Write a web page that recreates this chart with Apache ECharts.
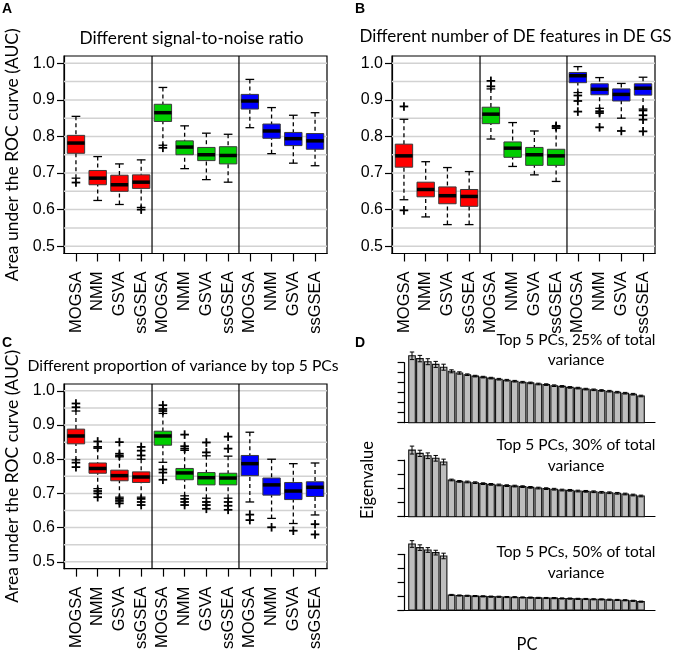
<!DOCTYPE html>
<html><head><meta charset="utf-8">
<script src="https://cdn.jsdelivr.net/npm/echarts@6/dist/echarts.min.js"></script>
<style>html,body{margin:0;padding:0;background:#fff}#c{width:675px;height:652px}</style>
</head><body><div id="c"></div>
<script>
// ---------- DATA ----------
const methods = ['MOGSA','NMM','GSVA','ssGSEA','MOGSA','NMM','GSVA','ssGSEA','MOGSA','NMM','GSVA','ssGSEA'];
const groupColors = ['#ff0000', '#00cd00', '#0000ff'];
const yTickValues = [0.5, 0.6, 0.7, 0.8, 0.9, 1.0];
const gridValues = [0.5, 0.55, 0.6, 0.65, 0.7, 0.75, 0.8, 0.85, 0.9, 0.95, 1.0];
const separators = [4.5, 8.5];
const catIndex = [1,2,3,4,5,6,7,8,9,10,11,12];

// five-number rows: [low whisker, Q1, median, Q3, high whisker]
const statsA = [
  [0.686, 0.754, 0.782, 0.803, 0.855],
  [0.625, 0.668, 0.686, 0.707, 0.745],
  [0.614, 0.650, 0.668, 0.694, 0.725],
  [0.606, 0.658, 0.675, 0.695, 0.736],
  [0.776, 0.841, 0.865, 0.888, 0.934],
  [0.712, 0.750, 0.771, 0.788, 0.829],
  [0.682, 0.734, 0.750, 0.770, 0.809],
  [0.675, 0.725, 0.748, 0.772, 0.806],
  [0.824, 0.875, 0.897, 0.915, 0.956],
  [0.753, 0.795, 0.815, 0.834, 0.879],
  [0.727, 0.775, 0.794, 0.811, 0.858],
  [0.720, 0.765, 0.788, 0.808, 0.865]
];
const outliersA = [[1, 0.674], [4, 0.600], [5, 0.769]];

const statsB = [
  [0.627, 0.716, 0.747, 0.779, 0.847],
  [0.580, 0.635, 0.655, 0.675, 0.731],
  [0.559, 0.616, 0.638, 0.662, 0.715],
  [0.559, 0.609, 0.636, 0.655, 0.704],
  [0.793, 0.835, 0.861, 0.880, 0.930],
  [0.718, 0.743, 0.768, 0.785, 0.838],
  [0.695, 0.721, 0.750, 0.770, 0.815],
  [0.677, 0.721, 0.747, 0.765, 0.822],
  [0.920, 0.947, 0.966, 0.975, 0.991],
  [0.877, 0.914, 0.929, 0.944, 0.961],
  [0.850, 0.897, 0.915, 0.930, 0.945],
  [0.875, 0.913, 0.932, 0.944, 0.962]
];
const outliersB = [[1, 0.882], [1, 0.598], [5, 0.952], [5, 0.937], [8, 0.829], [8, 0.826],
  [9, 0.912], [9, 0.897], [9, 0.868], [10, 0.869], [10, 0.864], [10, 0.825], [11, 0.815],
  [12, 0.871], [12, 0.858], [12, 0.846], [12, 0.814]];

const statsC = [
  [0.798, 0.845, 0.868, 0.888, 0.941],
  [0.714, 0.759, 0.773, 0.789, 0.832],
  [0.689, 0.737, 0.752, 0.768, 0.807],
  [0.689, 0.732, 0.748, 0.763, 0.800],
  [0.791, 0.841, 0.868, 0.882, 0.934],
  [0.693, 0.740, 0.760, 0.773, 0.826],
  [0.686, 0.725, 0.746, 0.761, 0.810],
  [0.686, 0.725, 0.745, 0.759, 0.809],
  [0.675, 0.752, 0.787, 0.811, 0.879],
  [0.627, 0.695, 0.725, 0.745, 0.800],
  [0.612, 0.682, 0.707, 0.732, 0.787],
  [0.637, 0.691, 0.718, 0.734, 0.789]
];
const outliersC = [[1, 0.963], [1, 0.952], [1, 0.790], [1, 0.777],
  [2, 0.852], [2, 0.836], [2, 0.707], [2, 0.700], [2, 0.689],
  [3, 0.850], [3, 0.816], [3, 0.810], [3, 0.684], [3, 0.678], [3, 0.671],
  [4, 0.836], [4, 0.825], [4, 0.811], [4, 0.684], [4, 0.675], [4, 0.666],
  [5, 0.958], [5, 0.947], [5, 0.941], [5, 0.770], [5, 0.761], [5, 0.740],
  [6, 0.872], [6, 0.838], [6, 0.831], [6, 0.684], [6, 0.675], [6, 0.666],
  [7, 0.849], [7, 0.820], [7, 0.675], [7, 0.666], [7, 0.655],
  [8, 0.866], [8, 0.831], [8, 0.675], [8, 0.664], [8, 0.652],
  [9, 0.638], [9, 0.622], [10, 0.601], [11, 0.591], [12, 0.610], [12, 0.580]];

// Panel D: eigenvalues (arbitrary units, 1 unit = 1 axis tick) and error half-widths
const eig25 = [6.69, 6.41, 6.10, 5.83, 5.55, 5.14, 4.97, 4.80, 4.66, 4.56, 4.46, 4.35, 4.25, 4.15, 4.05,
  3.98, 3.87, 3.81, 3.70, 3.63, 3.53, 3.46, 3.36, 3.29, 3.22, 3.15, 3.05, 2.95, 2.85, 2.67];
const err25 = [0.38, 0.32, 0.30, 0.30, 0.30, 0.15, 0.12, 0.08, 0.08, 0.08, 0.08, 0.08, 0.08, 0.08, 0.08,
  0.08, 0.08, 0.08, 0.08, 0.08, 0.08, 0.08, 0.08, 0.08, 0.08, 0.08, 0.08, 0.08, 0.08, 0.08];
const eig30 = [4.70, 4.47, 4.30, 4.12, 3.86, 2.59, 2.49, 2.45, 2.40, 2.33, 2.28, 2.24, 2.19, 2.16, 2.12,
  2.07, 2.02, 1.98, 1.94, 1.88, 1.86, 1.81, 1.79, 1.76, 1.72, 1.69, 1.65, 1.60, 1.53, 1.46];
const err30 = [0.28, 0.22, 0.20, 0.20, 0.20, 0.06, 0.06, 0.06, 0.06, 0.06, 0.06, 0.06, 0.06, 0.06, 0.06,
  0.06, 0.06, 0.06, 0.06, 0.06, 0.06, 0.06, 0.06, 0.06, 0.06, 0.06, 0.06, 0.06, 0.06, 0.06];
const eig50 = [4.74, 4.48, 4.31, 4.12, 3.88, 1.08, 1.04, 1.02, 1.00, 0.98, 0.96, 0.95, 0.93, 0.92, 0.90,
  0.89, 0.87, 0.86, 0.85, 0.83, 0.82, 0.80, 0.79, 0.77, 0.76, 0.74, 0.72, 0.70, 0.66, 0.60];
const err50 = [0.24, 0.20, 0.17, 0.17, 0.20, 0.04, 0.04, 0.04, 0.04, 0.04, 0.04, 0.04, 0.04, 0.04, 0.04,
  0.04, 0.04, 0.04, 0.04, 0.04, 0.04, 0.04, 0.04, 0.04, 0.04, 0.04, 0.04, 0.04, 0.04, 0.04];

// ---------- RENDERING ----------
const TXT = 'Lato';
const ARIAL = 'Liberation Sans';
const BOX_HALF = 0.4, CAP_HALF = 0.2;

function ln(a, b, style) {
  return {type: 'line', shape: {x1: a[0], y1: a[1], x2: b[0], y2: b[1]}, style: style};
}

function renderBox(params, api) {
  const x = api.value(0), lo = api.value(1), q1 = api.value(2), md = api.value(3), q3 = api.value(4), hi = api.value(5);
  const color = groupColors[Math.floor((x - 1) / 4)];
  const tl = api.coord([x - BOX_HALF, q3]), br = api.coord([x + BOX_HALF, q1]);
  const dash = {stroke: '#000', lineWidth: 1.3, lineDash: [4, 3]};
  const solid = {stroke: '#000', lineWidth: 1.3};
  return {type: 'group', children: [
    ln(api.coord([x, hi]), api.coord([x, q3]), dash),
    ln(api.coord([x, lo]), api.coord([x, q1]), dash),
    ln(api.coord([x - CAP_HALF, hi]), api.coord([x + CAP_HALF, hi]), solid),
    ln(api.coord([x - CAP_HALF, lo]), api.coord([x + CAP_HALF, lo]), solid),
    {type: 'rect', shape: {x: tl[0], y: tl[1], width: br[0] - tl[0], height: br[1] - tl[1]},
      style: {fill: color, stroke: '#3a3a3a', lineWidth: 1}},
    ln(api.coord([x - BOX_HALF, md]), api.coord([x + BOX_HALF, md]), {stroke: '#000', lineWidth: 3.5})
  ]};
}

function renderPlus(params, api) {
  const p = api.coord([api.value(0), api.value(1)]);
  const s = 4.3, st = {stroke: '#000', lineWidth: 1.8};
  return {type: 'group', children: [
    ln([p[0] - s, p[1]], [p[0] + s, p[1]], st),
    ln([p[0], p[1] - s], [p[0], p[1] + s], st)
  ]};
}

function renderHLine(params, api) {
  const cs = params.coordSys;
  const y = api.coord([1, api.value(0)])[1];
  return ln([cs.x, y], [cs.x + cs.width, y], {stroke: '#d2d2d2', lineWidth: 1.5});
}

function renderVLine(params, api) {
  const cs = params.coordSys;
  const x = api.coord([api.value(0), 0.75])[0];
  return ln([x, cs.y], [x, cs.y + cs.height], {stroke: '#000', lineWidth: 1.2});
}

function renderBar(params, api) {
  const x = api.value(0), h = api.value(1), e = api.value(2);
  const hw = 0.5 / 1.2;
  const tl = api.coord([x - hw, h]), br = api.coord([x + hw, 0]);
  const st = {stroke: '#000', lineWidth: 1};
  return {type: 'group', children: [
    {type: 'rect', shape: {x: tl[0], y: tl[1], width: br[0] - tl[0], height: br[1] - tl[1]},
      style: {fill: '#bebebe', stroke: '#111', lineWidth: 1.1}},
    ln(api.coord([x, h - e]), api.coord([x, h + e]), st),
    ln(api.coord([x - 0.28, h + e]), api.coord([x + 0.28, h + e]), st),
    ln(api.coord([x - 0.28, h - e]), api.coord([x + 0.28, h - e]), st)
  ]};
}

const grids = [
  {left: 64, top: 56, width: 263, height: 197.5},
  {left: 392, top: 56, width: 263, height: 197.5},
  {left: 64, top: 384, width: 263, height: 198},
  {left: 398, top: 362.7, width: 257, height: 60},
  {left: 398, top: 460, width: 257, height: 56.7},
  {left: 398, top: 554.3, width: 257, height: 55.7}
].map((g, i) => Object.assign(g, i < 3 ? {show: true, borderColor: '#000', borderWidth: 1.2, backgroundColor: 'transparent'} : {}));

const xAxes = [], yAxes = [], series = [];

function boxPanel(gi, stats, outliers, yName) {
  xAxes.push({gridIndex: gi, type: 'value', min: 0.45, max: 12.55,
    axisLine: {show: true, lineStyle: {color: '#000', width: 1.2}},
    axisTick: {show: true, customValues: catIndex, length: 8, lineStyle: {color: '#000', width: 1.2}},
    axisLabel: {customValues: catIndex, formatter: v => methods[Math.round(v) - 1], rotate: 90, margin: 18,
      fontFamily: ARIAL, fontSize: 16.5, color: '#000'},
    splitLine: {show: false}});
  yAxes.push({gridIndex: gi, type: 'value', min: 0.48, max: 1.02,
    axisLine: {show: true, lineStyle: {color: '#000', width: 1.2}},
    axisTick: {show: true, customValues: yTickValues, length: 7, lineStyle: {color: '#000', width: 1.2}},
    axisLabel: {customValues: yTickValues, formatter: v => v.toFixed(1), margin: 9,
      fontFamily: ARIAL, fontSize: 16, color: '#000'},
    splitLine: {show: false},
    name: yName || '', nameLocation: 'middle', nameGap: 43,
    nameTextStyle: {fontFamily: TXT, fontSize: 17.5, color: '#000'}});
  series.push({type: 'custom', xAxisIndex: gi, yAxisIndex: gi, z: 1, silent: true,
    data: gridValues.map(v => [v]), encode: {y: 0}, renderItem: renderHLine});
  series.push({type: 'custom', xAxisIndex: gi, yAxisIndex: gi, z: 2, silent: true,
    data: separators.map(v => [v]), encode: {x: 0}, renderItem: renderVLine});
  series.push({type: 'custom', xAxisIndex: gi, yAxisIndex: gi, z: 3, silent: true,
    data: stats.map((r, i) => [catIndex[i]].concat(r)), encode: {x: 0, y: [1, 2, 3, 4, 5]}, renderItem: renderBox});
  series.push({type: 'custom', xAxisIndex: gi, yAxisIndex: gi, z: 4, silent: true,
    data: outliers, encode: {x: 0, y: 1}, renderItem: renderPlus});
}

function barPanel(gi, eig, err, ymax) {
  xAxes.push({gridIndex: gi, type: 'value', min: -0.775, max: 31.775,
    axisLine: {show: true, onZero: false, lineStyle: {color: '#000', width: 1.2}},
    axisTick: {show: false}, axisLabel: {show: false}, splitLine: {show: false}});
  yAxes.push({gridIndex: gi, type: 'value', min: 0, max: ymax, interval: 1,
    axisLine: {show: true, lineStyle: {color: '#000', width: 1.2}},
    axisTick: {show: true, length: 6.5, lineStyle: {color: '#000', width: 1.2}},
    axisLabel: {show: false}, splitLine: {show: false}});
  series.push({type: 'custom', xAxisIndex: gi, yAxisIndex: gi, z: 3, silent: true, clip: false,
    data: eig.map((v, i) => [i + 1, v, err[i]]), encode: {x: 0, y: 1}, renderItem: renderBar});
}

boxPanel(0, statsA, outliersA, 'Area under the ROC curve (AUC)');
boxPanel(1, statsB, outliersB, '');
boxPanel(2, statsC, outliersC, 'Area under the ROC curve (AUC)');
barPanel(3, eig25, err25, 6);
barPanel(4, eig30, err30, 4);
barPanel(5, eig50, err50, 4);

function txt(text, x, y, opt) {
  return Object.assign({type: 'text', x: x, y: y, silent: true,
    style: Object.assign({text: text, fill: '#000', font: '15.5px ' + TXT, align: 'center', verticalAlign: 'middle'}, opt || {})});
}
const graphics = [
  txt('A', 2, 2, {font: 'bold 14px ' + ARIAL, align: 'left', verticalAlign: 'top'}),
  txt('B', 355, 2, {font: 'bold 14px ' + ARIAL, align: 'left', verticalAlign: 'top'}),
  txt('C', 2, 336, {font: 'bold 14px ' + ARIAL, align: 'left', verticalAlign: 'top'}),
  txt('D', 355, 336, {font: 'bold 14px ' + ARIAL, align: 'left', verticalAlign: 'top'}),
  txt('Different signal-to-noise ratio', 191.5, 38.5, {font: '17.3px ' + TXT}),
  txt('Different number of DE features in DE GS', 515.5, 37, {font: '17px ' + TXT}),
  txt('Different proportion of variance by top 5 PCs', 183, 366, {font: '15.7px ' + TXT}),
  txt('Top 5 PCs, 25% of total\nvariance', 576, 350, {lineHeight: 20.5}),
  txt('Top 5 PCs, 30% of total\nvariance', 576, 455.5, {lineHeight: 20.5}),
  txt('Top 5 PCs, 50% of total\nvariance', 576, 562.5, {lineHeight: 20.5}),
  Object.assign(txt('Eigenvalue', 368, 480, {font: '16.5px ' + TXT}), {rotation: Math.PI / 2}),
  txt('PC', 527, 645, {font: '16.5px ' + TXT})
];

const chart = echarts.init(document.getElementById('c'), null, {renderer: 'canvas'});
chart.setOption({
  animation: false,
  backgroundColor: '#fff',
  grid: grids,
  xAxis: xAxes,
  yAxis: yAxes,
  series: series,
  graphic: graphics
});
</script></body></html>
